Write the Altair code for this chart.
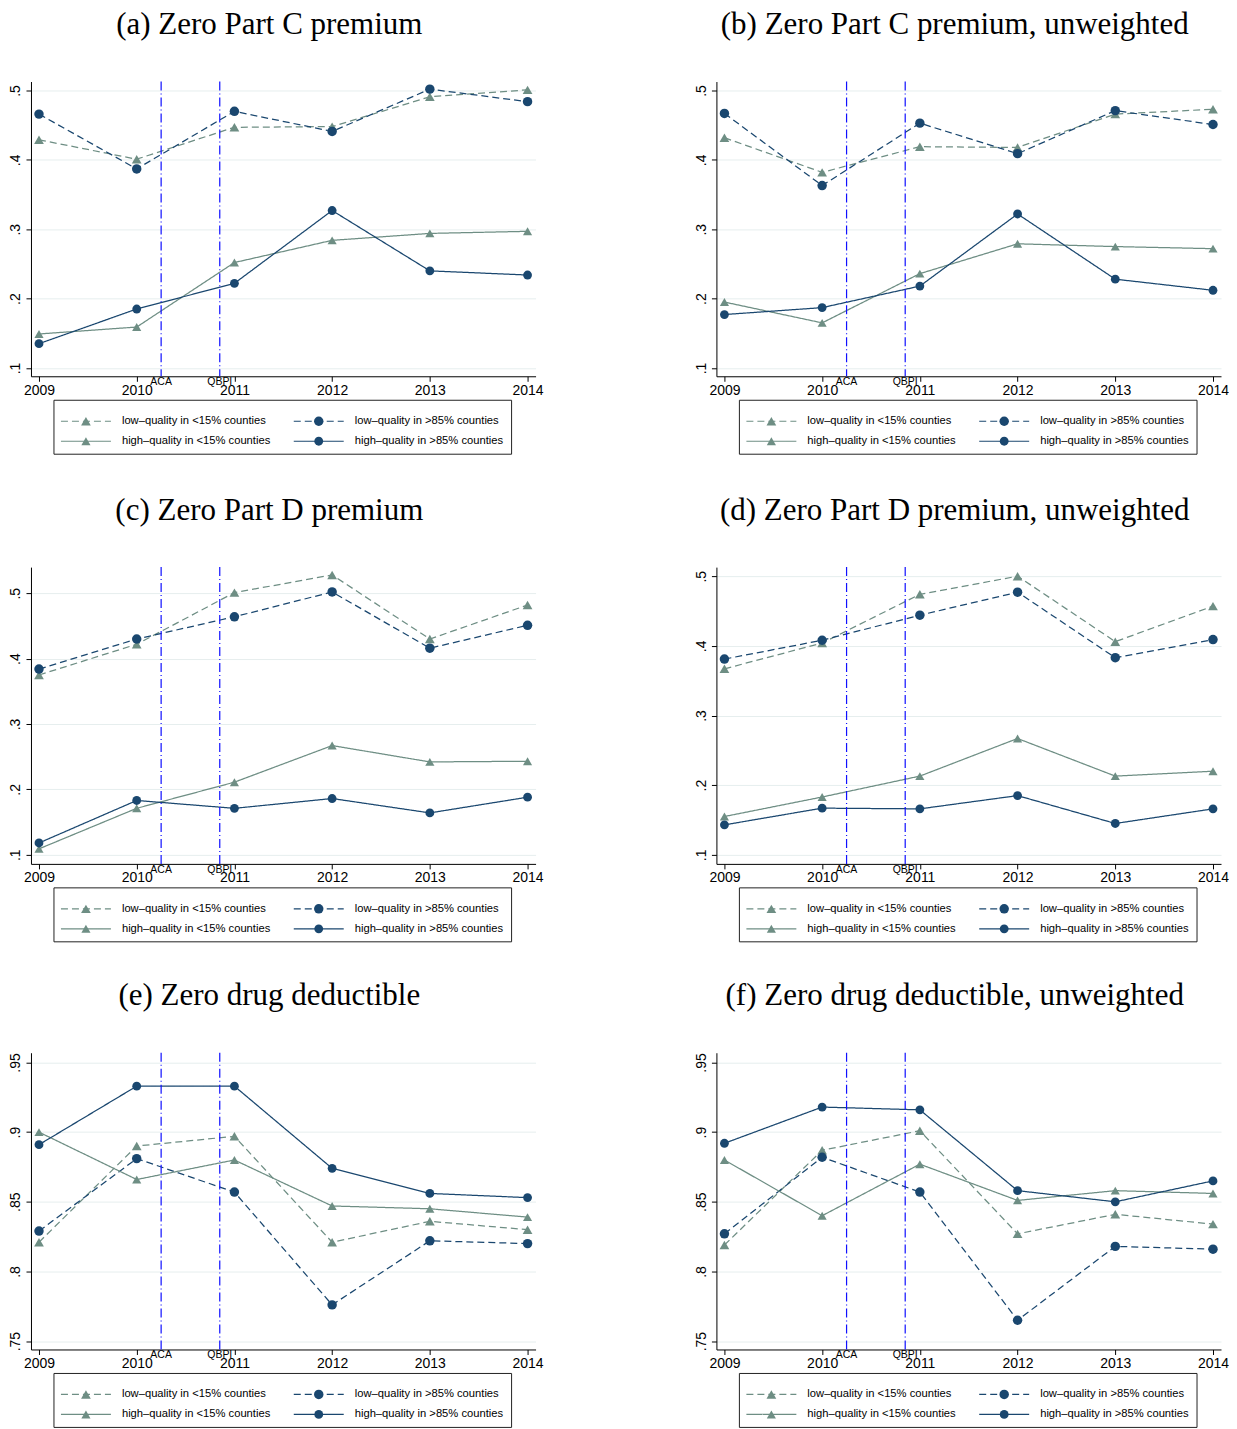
import altair as alt
import pandas as pd

YEARS = [2009, 2010, 2011, 2012, 2013, 2014]
SERIES = ["low–quality in <15% counties", "low–quality in >85% counties",
          "high–quality in <15% counties", "high–quality in >85% counties"]
SERIES_COLORS = ["#6e8e84", "#1a476f", "#6e8e84", "#1a476f"]
SERIES_SHAPES = ["triangle-up", "circle", "triangle-up", "circle"]
SERIES_SIZES = [95, 78, 95, 78]
SERIES_DASH = [[7, 4], [7, 4], [1, 0], [1, 0]]

EVENTS = ["ACA", "QBPI"]
EVENT_X = [2010.25, 2010.85]

TITLES = ["(a) Zero Part C premium", "(b) Zero Part C premium, unweighted",
          "(c) Zero Part D premium", "(d) Zero Part D premium, unweighted",
          "(e) Zero drug deductible", "(f) Zero drug deductible, unweighted"]

TICKS_PREMIUM = [0.1, 0.2, 0.3, 0.4, 0.5]
TICKS_DEDUCT = [0.75, 0.8, 0.85, 0.9, 0.95]

# (a) Zero Part C premium
A_LOW15 = [0.429, 0.401, 0.447, 0.448, 0.491, 0.501]
A_LOW85 = [0.466, 0.387, 0.470, 0.441, 0.502, 0.484]
A_HIGH15 = [0.149, 0.159, 0.252, 0.284, 0.294, 0.297]
A_HIGH85 = [0.135, 0.185, 0.222, 0.327, 0.240, 0.234]
# (b) Zero Part C premium, unweighted
B_LOW15 = [0.432, 0.382, 0.419, 0.418, 0.466, 0.473]
B_LOW85 = [0.467, 0.363, 0.453, 0.409, 0.471, 0.451]
B_HIGH15 = [0.195, 0.165, 0.236, 0.279, 0.275, 0.272]
B_HIGH85 = [0.177, 0.187, 0.218, 0.322, 0.228, 0.212]
# (c) Zero Part D premium
C_LOW15 = [0.375, 0.422, 0.501, 0.528, 0.430, 0.482]
C_LOW85 = [0.384, 0.430, 0.464, 0.502, 0.416, 0.451]
C_HIGH15 = [0.109, 0.171, 0.211, 0.267, 0.242, 0.243]
C_HIGH85 = [0.118, 0.183, 0.171, 0.186, 0.164, 0.188]
# (d) Zero Part D premium, unweighted
D_LOW15 = [0.367, 0.404, 0.474, 0.500, 0.406, 0.457]
D_LOW85 = [0.381, 0.408, 0.444, 0.477, 0.383, 0.409]
D_HIGH15 = [0.155, 0.183, 0.213, 0.267, 0.213, 0.220]
D_HIGH85 = [0.143, 0.167, 0.166, 0.185, 0.145, 0.166]
# (e) Zero drug deductible
E_LOW15 = [0.821, 0.890, 0.897, 0.821, 0.836, 0.830]
E_LOW85 = [0.829, 0.881, 0.857, 0.776, 0.822, 0.820]
E_HIGH15 = [0.900, 0.866, 0.880, 0.847, 0.845, 0.839]
E_HIGH85 = [0.891, 0.933, 0.933, 0.874, 0.856, 0.853]
# (f) Zero drug deductible, unweighted
F_LOW15 = [0.819, 0.887, 0.901, 0.827, 0.841, 0.834]
F_LOW85 = [0.827, 0.882, 0.857, 0.765, 0.818, 0.816]
F_HIGH15 = [0.880, 0.840, 0.877, 0.851, 0.858, 0.856]
F_HIGH85 = [0.892, 0.918, 0.916, 0.858, 0.850, 0.865]

DOM_A = [0.088, 0.513]
DOM_B = [0.088, 0.513]
DOM_C = [0.086, 0.540]
DOM_D = [0.087, 0.513]
DOM_E = [0.744, 0.957]
DOM_F = [0.744, 0.957]

X_DOMAIN = [2008.918, 2014.082]
PW = 505


def panel(title, series_values, ydomain, yticks, height):
    rows = []
    for s, vals in zip(SERIES, series_values):
        for yr, v in zip(YEARS, vals):
            rows.append({"year": yr, "value": v, "series": s})
    df = pd.DataFrame(rows)

    color = alt.Color("series:N", scale=alt.Scale(domain=SERIES, range=SERIES_COLORS), legend=None)
    dash = alt.StrokeDash("series:N", scale=alt.Scale(domain=SERIES, range=SERIES_DASH), legend=None)
    shape = alt.Shape("series:N", scale=alt.Scale(domain=SERIES, range=SERIES_SHAPES), legend=None)
    size = alt.Size("series:N", scale=alt.Scale(domain=SERIES, range=SERIES_SIZES), legend=None)

    x = alt.X("year:Q", scale=alt.Scale(domain=X_DOMAIN, nice=False, zero=False),
              axis=alt.Axis(values=YEARS, format="d", title=None, grid=False,
                            labelFlush=False, labelPadding=2))
    y = alt.Y("value:Q", scale=alt.Scale(domain=ydomain, nice=False, zero=False),
              axis=alt.Axis(values=yticks, title=None, grid=True,
                            labelExpr="substring(format(datum.value, '.2~f'), 1)",
                            labelAngle=270, labelAlign="center", labelBaseline="bottom",
                            labelPadding=3))

    base = alt.Chart(df)
    lines = base.mark_line(strokeWidth=1.25).encode(x=x, y=y, color=color, strokeDash=dash,
                                                    detail="series:N")
    pts = base.mark_point(filled=True, opacity=1).encode(
        x="year:Q", y="value:Q", color=color, shape=shape, size=size)

    ev = pd.DataFrame({"event": EVENTS, "ex": EVENT_X})
    rules = alt.Chart(ev).mark_rule(color="#1010ff", strokeWidth=1.2,
                                    strokeDash=[9, 3, 1, 3]).encode(x="ex:Q")
    evtext = alt.Chart(ev).mark_text(fontSize=10.5, font="Liberation Sans", baseline="top",
                                     align="center", color="#000").encode(
        x="ex:Q", y=alt.value(height + 1), text="event:N")

    box = alt.Chart(pd.DataFrame({"b": [0]})).mark_rect(
        fillOpacity=0, stroke="#222", strokeWidth=1).encode(
        x=alt.value(23), x2=alt.value(481), y=alt.value(height + 24), y2=alt.value(height + 78))

    leg = alt.Chart(pd.DataFrame({"series": SERIES, "slot": [0, 1, 2, 3]})).transform_calculate(
        col="datum.slot % 2", row="floor(datum.slot / 2)"
    ).transform_calculate(
        lx1="30 + datum.col * 233", lx2="80 + datum.col * 233",
        mx="55 + datum.col * 233", tx="91 + datum.col * 233",
        ly=f"{height} + 45 + datum.row * 20"
    )
    leg_lines = leg.mark_rule(strokeWidth=1.2).encode(
        x=alt.X("lx1:Q", scale=None, axis=None), x2="lx2:Q",
        y=alt.Y("ly:Q", scale=None, axis=None), color=color, strokeDash=dash)
    leg_pts = leg.mark_point(filled=True, opacity=1).encode(
        x=alt.X("mx:Q", scale=None, axis=None), y=alt.Y("ly:Q", scale=None, axis=None),
        color=color, shape=shape, size=size)
    leg_text = leg.mark_text(fontSize=11.2, font="Liberation Sans", align="left",
                             baseline="middle", color="#000").encode(
        x=alt.X("tx:Q", scale=None, axis=None), y=alt.Y("ly:Q", scale=None, axis=None),
        text="series:N")

    return alt.layer(lines, pts, rules, evtext, box, leg_lines, leg_pts, leg_text).properties(
        width=PW, height=height,
        title=alt.TitleParams(title, font="Liberation Serif", fontSize=31, fontWeight="normal",
                              anchor="middle", frame="group", dx=-14, offset=40, color="#000"))


pa = panel(TITLES[0], [A_LOW15, A_LOW85, A_HIGH15, A_HIGH85], DOM_A, TICKS_PREMIUM, 295)
pb = panel(TITLES[1], [B_LOW15, B_LOW85, B_HIGH15, B_HIGH85], DOM_B, TICKS_PREMIUM, 295)
pc = panel(TITLES[2], [C_LOW15, C_LOW85, C_HIGH15, C_HIGH85], DOM_C, TICKS_PREMIUM, 297)
pd_ = panel(TITLES[3], [D_LOW15, D_LOW85, D_HIGH15, D_HIGH85], DOM_D, TICKS_PREMIUM, 297)
pe = panel(TITLES[4], [E_LOW15, E_LOW85, E_HIGH15, E_HIGH85], DOM_E, TICKS_DEDUCT, 297)
pf = panel(TITLES[5], [F_LOW15, F_LOW85, F_HIGH15, F_HIGH85], DOM_F, TICKS_DEDUCT, 297)

row1 = alt.hconcat(pa, pb, spacing=181, bounds="flush")
row2 = alt.hconcat(pc, pd_, spacing=181, bounds="flush")
row3 = alt.hconcat(pe, pf, spacing=181, bounds="flush")

chart = alt.vconcat(row1, row2, row3, spacing=486, bounds="flush").configure_view(
    stroke=None
).configure_axis(
    domainColor="#000", tickColor="#000", labelColor="#000", labelFont="Liberation Sans",
    labelFontSize=14, tickSize=5, gridColor="#e6eeee", domainWidth=1, tickWidth=1
).properties(
    padding={"left": 0, "top": 0, "right": 0, "bottom": 0}
)

chart.save("out.html", embed_options={"renderer": "svg", "actions": False})
